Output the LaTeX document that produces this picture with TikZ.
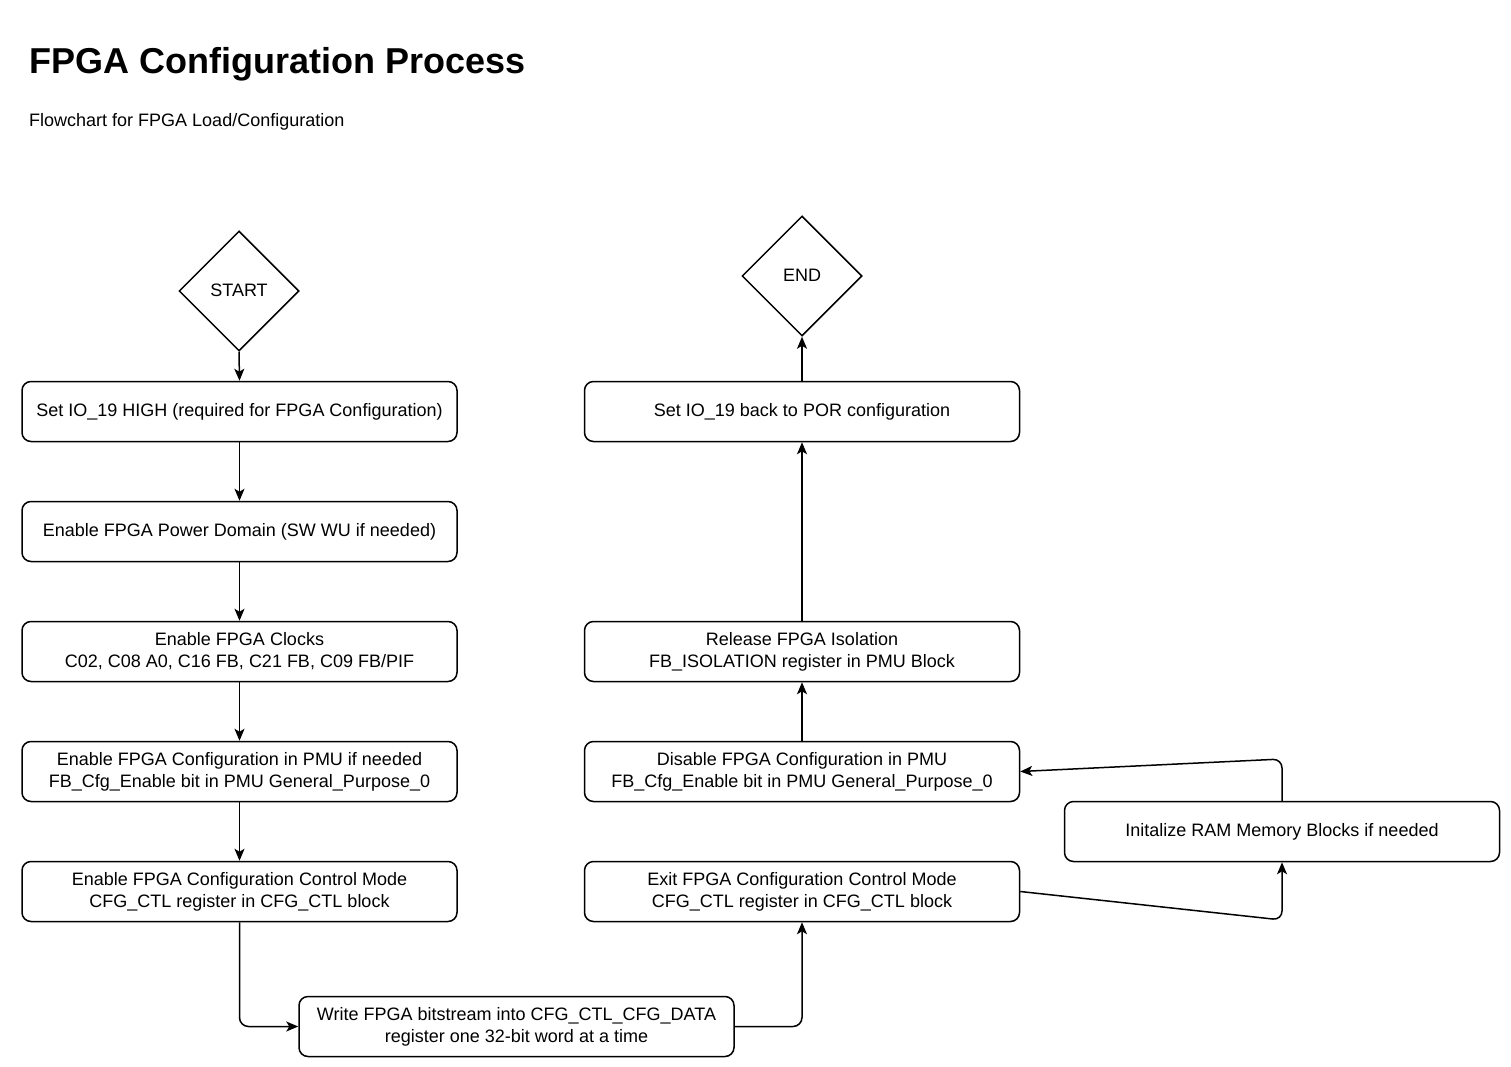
\documentclass[tikz,border=0pt]{standalone}
\usepackage{fontspec}
\setmainfont{Liberation Sans}
\usetikzlibrary{shapes.geometric,arrows.meta}
\begin{document}
\begin{tikzpicture}[x=1pt,y=-1pt,
  box/.style={draw, line width=1.5pt, rounded corners=9pt, minimum width=435pt, minimum height=60pt, align=center, font=\fontsize{18}{22}\selectfont, inner sep=0pt},
  dia/.style={draw, diamond, line width=1.5pt, minimum width=120pt, minimum height=120pt, inner sep=0pt, font=\fontsize{18}{22}\selectfont},
  arr/.style={-{Stealth[length=12pt,width=10pt,inset=3pt]}, line width=1.5pt, rounded corners=9pt},
  txt/.style={anchor=base west, inner sep=0pt}]
\fill[white] (0,0) rectangle (1511,1067);
\useasboundingbox (0,0) rectangle (1511,1067);
\node[txt, font=\fontsize{36}{43}\selectfont\bfseries] (title) at (29,74) {FPGA Configuration Process};
\node[txt, font=\fontsize{18}{22}\selectfont] (sub) at (29,126.5) {Flowchart for FPGA Load/Configuration};

\node[dia] (start) at (239,291) {\raisebox{2pt}{START}};
\node[dia] (end) at (802,276) {\raisebox{2pt}{END}};

\node[box] (b1) at (239.5,411.5) {Set IO\_19 HIGH (required for FPGA Configuration)};
\node[box] (b2) at (239.5,531.5) {Enable FPGA Power Domain (SW WU if needed)};
\node[box] (b3) at (239.5,651.5) {Enable FPGA Clocks\\C02, C08 A0, C16 FB, C21 FB, C09 FB/PIF};
\node[box] (b4) at (239.5,771.5) {Enable FPGA Configuration in PMU if needed\\FB\_Cfg\_Enable bit in PMU General\_Purpose\_0};
\node[box] (b5) at (239.5,891.5) {Enable FPGA Configuration Control Mode\\CFG\_CTL register in CFG\_CTL block};

\node[box] (r1) at (802,411.5) {Set IO\_19 back to POR configuration};
\node[box] (r3) at (802,651.5) {Release FPGA Isolation\\FB\_ISOLATION register in PMU Block};
\node[box] (r4) at (802,771.5) {Disable FPGA Configuration in PMU\\FB\_Cfg\_Enable bit in PMU General\_Purpose\_0};
\node[box] (r5) at (802,891.5) {Exit FPGA Configuration Control Mode\\CFG\_CTL register in CFG\_CTL block};
\node[box] (ram) at (1282,831.5) {Initalize RAM Memory Blocks if needed};
\node[box] (w) at (516.5,1026.5) {Write FPGA bitstream into CFG\_CTL\_CFG\_DATA\\register one 32-bit word at a time};

\coordinate (c1) at (1282,920);
\coordinate (c2) at (1282,759);

\draw[arr] (start.south) -- (b1.north);
\draw[arr] (b1) -- (b2);
\draw[arr] (b2) -- (b3);
\draw[arr] (b3) -- (b4);
\draw[arr] (b4) -- (b5);
\draw[arr] (b5.south) -- (b5.south |- w.west) -- (w.west);
\draw[arr] (w.east) -- (w.east -| r5.south) -- (r5.south);
\draw[arr] (r5.east) -- (c1) -- (ram.south);
\draw[arr] (ram.north) -- (c2) -- (r4.east);
\draw[arr] (r4) -- (r3);
\draw[arr] (r3) -- (r1);
\draw[arr] (r1.north) -- (end.south);
\end{tikzpicture}
\end{document}
